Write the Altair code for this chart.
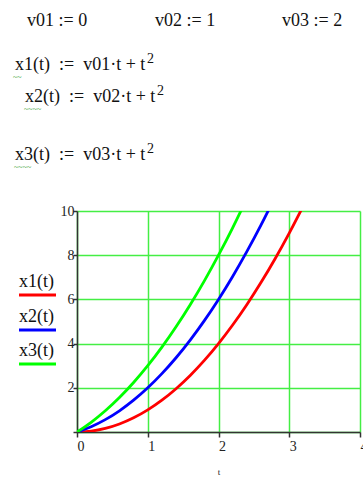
import altair as alt
import pandas as pd

# Sample points of the three position curves x(t) (t in s)
t_1 = [0.0, 0.2, 0.4, 0.6, 0.8, 1.0, 1.2, 1.4, 1.6, 1.8, 2.0, 2.2, 2.4, 2.6, 2.8, 3.0, 3.2]
x_1 = [0.0, 0.04, 0.16, 0.36, 0.64, 1.0, 1.44, 1.96, 2.56, 3.24, 4.0, 4.84, 5.76, 6.76, 7.84, 9.0, 10.24]

t_2 = [0.0, 0.2, 0.4, 0.6, 0.8, 1.0, 1.2, 1.4, 1.6, 1.8, 2.0, 2.2, 2.4, 2.6, 2.8]
x_2 = [0.0, 0.24, 0.56, 0.96, 1.44, 2.0, 2.64, 3.36, 4.16, 5.04, 6.0, 7.04, 8.16, 9.36, 10.64]

t_3 = [0.0, 0.2, 0.4, 0.6, 0.8, 1.0, 1.2, 1.4, 1.6, 1.8, 2.0, 2.2, 2.4]
x_3 = [0.0, 0.44, 0.96, 1.56, 2.24, 3.0, 3.84, 4.76, 5.76, 6.84, 8.0, 9.24, 10.56]

series_names = ["x1(t)", "x2(t)", "x3(t)"]
series_colors = ["#ff0000", "#0000ff", "#00ff00"]

x_ticks = [0, 1, 2, 3, 4]
y_ticks = [0, 2, 4, 6, 8, 10]

rows = []
for name, ts, xs in zip(series_names, (t_1, t_2, t_3), (x_1, x_2, x_3)):
    rows += [{"series": name, "t": a, "x": b} for a, b in zip(ts, xs)]
curves_df = pd.DataFrame(rows)

SERIF = "Liberation Serif"
W, H = 283, 221
AXIS_COLOR = "#333333"
GRID_COLOR = "#44ee44"

curves = alt.Chart(curves_df).mark_line(
    clip=True, strokeWidth=2.8, interpolate="monotone"
).encode(
    x=alt.X(
        "t:Q",
        scale=alt.Scale(domain=[0, 4], nice=False, zero=False),
        axis=alt.Axis(
            values=x_ticks, title="t", titleFont=SERIF, titleFontSize=9,
            titleFontWeight="normal", titleColor="#222222", titlePadding=14,
            labelFont=SERIF, labelFontSize=14, labelColor="#222222",
            labelOffset=3.5, labelPadding=2, labelFlush=False,
            tickColor=AXIS_COLOR, tickSize=5, tickWidth=1.5,
            domainColor=AXIS_COLOR, domainWidth=1.5,
            gridColor=GRID_COLOR, gridWidth=1.5,
        ),
    ),
    y=alt.Y(
        "x:Q",
        scale=alt.Scale(domain=[0, 10], nice=False),
        axis=alt.Axis(
            values=y_ticks, title=None,
            labelExpr="datum.value == 0 ? '' : datum.label",
            labelFont=SERIF, labelFontSize=14, labelColor="#222222",
            labelPadding=-1, labelFlush=False,
            tickColor=AXIS_COLOR, tickSize=4, tickWidth=1.5,
            domainColor=AXIS_COLOR, domainWidth=1.5,
            gridColor=GRID_COLOR, gridWidth=1.5,
        ),
    ),
    color=alt.Color(
        "series:N",
        scale=alt.Scale(domain=series_names, range=series_colors),
        legend=None,
    ),
    detail="series:N",
)

one = pd.DataFrame({"k": [0]})


def text_at(text, x, y, size=18, color="#111111"):
    return alt.Chart(one).mark_text(
        text=text, font=SERIF, fontSize=size, color=color,
        align="left", baseline="alphabetic",
    ).encode(x=alt.value(x), y=alt.value(y))


def rule_at(x0, x1, y, color):
    return alt.Chart(one).mark_rule(color=color, strokeWidth=3).encode(
        x=alt.value(x0), x2=alt.value(x1), y=alt.value(y)
    )


layers = [curves]

# constant definitions
layers += [
    text_at("v01 := 0", -50, -185),
    text_at("v02 := 1", 78, -185),
    text_at("v03 := 2", 205, -185),
]

# function definitions, the squared term set as a superscript
SP = "\u2002"
layers += [
    text_at("x1(t)" + SP + ":=" + SP + "v01·t + t", -62, -141),
    text_at("2", 70, -148, size=14),
    text_at("x2(t)" + SP + ":=" + SP + "v02·t + t", -52, -109),
    text_at("2", 80, -116, size=14),
    text_at("x3(t)" + SP + ":=" + SP + "v03·t + t", -62, -51),
    text_at("2", 70, -58, size=14),
]

# spell-check squiggles under the function names
SQ = "#2f9a2f"
layers += [
    text_at("~~", -64, -131, size=8, color=SQ),
    text_at("~~~~", -53, -99, size=8, color=SQ),
    text_at("~~~~", -63, -41, size=8, color=SQ),
]

# trace legend: name above a coloured stroke
legend_y = [76, 111, 145]
for name, color, yb in zip(series_names, series_colors, legend_y):
    layers.append(text_at(name, -58, yb))
    layers.append(rule_at(-58, -21, yb + 8, color))

chart = alt.layer(*layers).properties(
    width=W, height=H,
    autosize=alt.AutoSizeParams(type="none"),
    padding={"left": 77, "top": 211, "right": 3, "bottom": 45},
    background="white",
).configure_view(stroke=None)

chart.save("out.html", embed_options={"renderer": "svg", "actions": False})
